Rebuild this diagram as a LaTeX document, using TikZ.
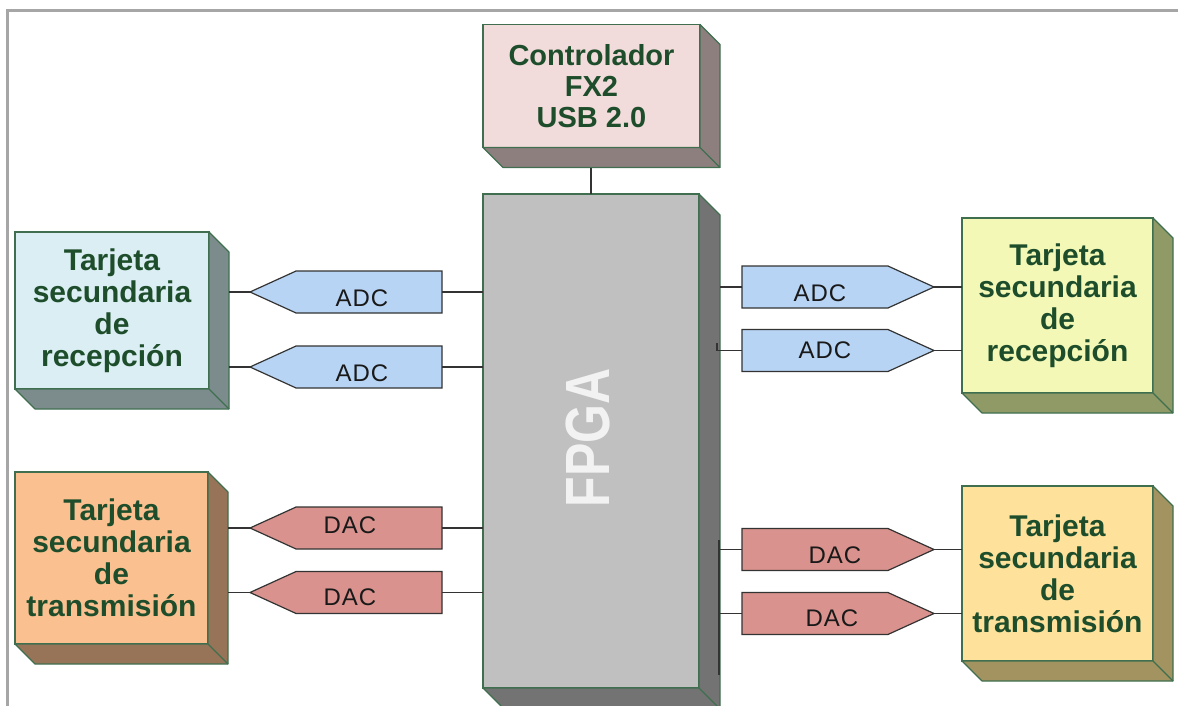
\documentclass[tikz,border=0pt]{standalone}
\usepackage{fontspec}
\setmainfont{Liberation Sans}
\usetikzlibrary{shapes.symbols}

\definecolor{verdeborde}{HTML}{3F6F4F}
\definecolor{verdetexto}{HTML}{1E4D2B}
\definecolor{marcogris}{HTML}{A6A6A6}
\definecolor{ctrlfrente}{HTML}{F2DCDB}
\definecolor{ctrllado}{HTML}{8E7F7F}
\definecolor{fpgafrente}{HTML}{C0C0C0}
\definecolor{fpgalado}{HTML}{737373}
\definecolor{azulfrente}{HTML}{DAEEF3}
\definecolor{azullado}{HTML}{7C8C8C}
\definecolor{naranjafrente}{HTML}{FAC090}
\definecolor{naranjalado}{HTML}{977357}
\definecolor{limafrente}{HTML}{F3F8B7}
\definecolor{limalado}{HTML}{8F9A66}
\definecolor{amarillofrente}{HTML}{FEE29C}
\definecolor{amarillolado}{HTML}{A39360}
\definecolor{adcazul}{HTML}{B8D4F4}
\definecolor{dacrojo}{HTML}{D9928D}

\tikzset{
  caja/.style={draw=verdeborde, line width=1.2pt, text=verdetexto,
    font=\bfseries\fontsize{30}{32}\selectfont, align=center,
    inner sep=0pt, outer sep=0pt},
  conv/.style={signal, draw=black!80, line width=1.2pt, signal from=nowhere,
    minimum height=42pt, minimum width=192pt, signal pointer angle=49,
    inner sep=0pt, outer sep=0pt},
  convizq/.style={conv, signal to=west},
  convder/.style={conv, signal to=east},
  etq/.style={font=\addfontfeatures{LetterSpace=4}\fontsize{24}{24}\selectfont,
    text=black!90, inner sep=0pt},
  conn/.style={draw=black!80, line width=1.3pt},
}

% caras laterales de una caja 3D: nodo, color, profundidad
\newcommand{\fondo}[3]{%
  \filldraw[fill=#2, draw=verdeborde, line width=1.2pt, line join=round]
    (#1.north east) -- ++(#3,#3) -- ([shift={(#3,#3)}]#1.south east)
    -- ([shift={(#3,#3)}]#1.south west) -- (#1.south west)
    -- (#1.south east) -- cycle;
  \draw[verdeborde, line width=1.2pt] (#1.south east) -- ++(#3,#3);
  \coordinate (#1-lado) at ([shift={(#3,#3)}]#1.south east);
}

\begin{document}
\begin{tikzpicture}[x=1pt, y=-1pt]
  \useasboundingbox (0,0) rectangle (1178,706);
  \draw[marcogris, line width=3pt] (7.5,706) -- (7.5,10.5) -- (1178,10.5);

  % cajas
  \node[caja, fill=ctrlfrente, font=\bfseries\fontsize{29}{31}\selectfont,
    minimum width=217pt, minimum height=123pt] (ctrl) at (591.5,86)
    {Controlador\\FX2\\USB 2.0};
  \fondo{ctrl}{ctrllado}{20}
  \node[caja, fill=fpgafrente, minimum width=216pt, minimum height=494pt]
    (fpga) at (591,441) {};
  \fondo{fpga}{fpgalado}{21}
  \node[text=white!95!black, font=\bfseries\fontsize{50}{50}\selectfont,
    rotate=90] (tfpga) at (588,438) {\scalebox{1}[1.25]{FPGA}};

  \node[caja, fill=azulfrente, minimum width=194pt, minimum height=157pt]
    (recIzq) at (112,310.5) {Tarjeta\\secundaria\\de\\recepción};
  \fondo{recIzq}{azullado}{20}
  \node[caja, fill=naranjafrente, minimum width=193pt, minimum height=172pt]
    (traIzq) at (111.5,558) {Tarjeta\\secundaria\\de\\transmisión};
  \fondo{traIzq}{naranjalado}{20}
  \node[caja, fill=limafrente, minimum width=191pt, minimum height=175pt]
    (recDer) at (1057.5,305.5) {Tarjeta\\secundaria\\de\\recepción};
  \fondo{recDer}{limalado}{20}
  \node[caja, fill=amarillofrente, minimum width=191pt, minimum height=175pt]
    (traDer) at (1057.5,573.5) {Tarjeta\\secundaria\\de\\transmisión};
  \fondo{traDer}{amarillolado}{20}

  % convertidores
  \node[convizq, fill=adcazul, anchor=east] (adcI1) at (442,292) {};
  \node[convizq, fill=adcazul, anchor=east] (adcI2) at (442,367) {};
  \node[convizq, fill=dacrojo, anchor=east] (dacI1) at (442,528) {};
  \node[convizq, fill=dacrojo, anchor=east] (dacI2) at (442,592.5) {};
  \node[convder, fill=adcazul, anchor=west] (adcD1) at (742,287) {};
  \node[convder, fill=adcazul, anchor=west] (adcD2) at (742,350.5) {};
  \node[convder, fill=dacrojo, anchor=west] (dacD1) at (742,549.5) {};
  \node[convder, fill=dacrojo, anchor=west] (dacD2) at (742,613.5) {};

  \node[etq] (tadcI1) at (362,298) {ADC};
  \node[etq] (tadcI2) at (362,373) {ADC};
  \node[etq] (tdacI1) at (350,525) {DAC};
  \node[etq] (tdacI2) at (350,597) {DAC};
  \node[etq] (tadcD1) at (820,293) {ADC};
  \node[etq] (tadcD2) at (825,350) {ADC};
  \node[etq] (tdacD1) at (835,555) {DAC};
  \node[etq] (tdacD2) at (832,618) {DAC};

  % conexiones
  \draw[conn] (fpga.north) -- (fpga.north |- ctrl-lado);
  \foreach \c in {adcI1,adcI2}{
    \draw[conn] (\c.west) -- (\c.west -| recIzq-lado);
    \draw[conn] (\c.east) -- (\c.east -| fpga.west);
  }
  \foreach \c in {dacI1,dacI2}{
    \draw[conn] (\c.west) -- (\c.west -| traIzq-lado);
    \draw[conn] (\c.east) -- (\c.east -| fpga.west);
  }
  \foreach \c in {adcD1,adcD2}
    \draw[conn] (\c.east) -- (\c.east -| recDer.west);
  \foreach \c in {dacD1,dacD2}
    \draw[conn] (\c.east) -- (\c.east -| traDer.west);
  \draw[conn] (adcD1.west -| fpga-lado) -- (adcD1.west);
  \coordinate (marca) at (717,343);
  \draw[conn] (marca) |- (adcD2.west);
  \coordinate (busA) at (719,540);
  \coordinate (busB) at (719,675);
  \draw[conn] (busA) -- (busB);
  \draw[conn] (dacD1.west -| busA) -- (dacD1.west);
  \draw[conn] (dacD2.west -| busA) -- (dacD2.west);
\end{tikzpicture}
\end{document}
